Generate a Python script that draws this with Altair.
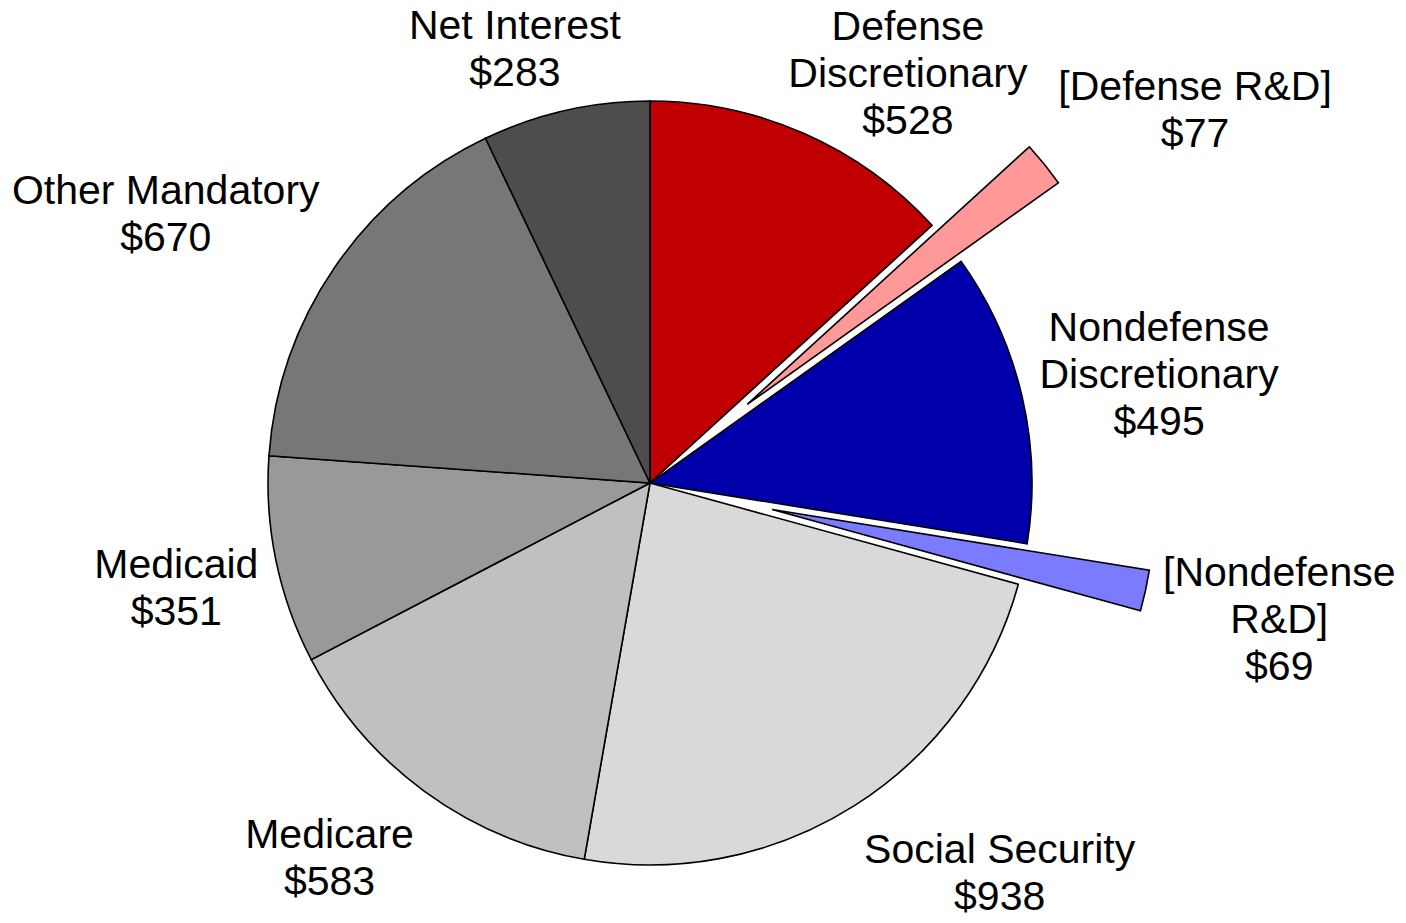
import math
import altair as alt
import pandas as pd

# ---- data ----
categories = ["Defense Discretionary", "[Defense R&D]", "Nondefense Discretionary",
              "[Nondefense R&D]", "Social Security", "Medicare", "Medicaid",
              "Other Mandatory", "Net Interest"]
values = [528, 77, 495, 69, 938, 583, 351, 670, 283]
label_names = [["Defense", "Discretionary"], ["[Defense R&D]"], ["Nondefense", "Discretionary"],
               ["[Nondefense", "R&D]"], ["Social Security"], ["Medicare"], ["Medicaid"],
               ["Other Mandatory"], ["Net Interest"]]
exploded = [0, 1, 0, 1, 0, 0, 0, 0, 0]

# ---- style / layout ----
colors = ["#C00000", "#FF9999", "#0000AA", "#7B7BFF", "#D9D9D9", "#C0C0C0",
          "#999999", "#777777", "#4D4D4D"]
W, H = 1390, 907
CX, CY = 642, 475
R = 382
EXPLODE = 125
LABEL_GAP = 400
LABEL_HALF_H = 48
LABEL_DY = 6
FONT_SIZE = 41
LINE_H = 47

# approximate Arial advance widths (em/1000) for label box estimates
AW = {" ": 278, "$": 556, "[": 278, "]": 278, "&": 667, "A": 667, "C": 722, "D": 722,
      "I": 278, "M": 833, "N": 722, "O": 778, "R": 722, "S": 667, "a": 556, "c": 500,
      "d": 556, "e": 556, "f": 278, "h": 556, "i": 222, "l": 222, "n": 556, "o": 556,
      "r": 333, "s": 500, "t": 278, "u": 556, "y": 500}


def text_w(s):
    return sum(AW.get(ch, 556) for ch in s) / 1000 * FONT_SIZE


total = sum(values)
pie_df = pd.DataFrame({
    "category": categories,
    "value": values,
    "explode": exploded,
    "order": list(range(len(values))),
})

# label placement: box anchored just outside each slice's mid angle
rows = []
cum = 0
for cat, v, names, ex in zip(categories, values, label_names, exploded):
    mid = (cum + v / 2) / total * 2 * math.pi
    cum += v
    lines = names + [f"${v}"]
    n = len(lines)
    w = max(text_w(s) for s in lines)
    ux, uy = math.sin(mid), -math.cos(mid)
    d = LABEL_GAP + ex * EXPLODE
    px, py = CX + d * ux, CY + d * uy
    sx = max(-1, min(1, 2 * ux))
    sy = max(-1, min(1, 2 * uy))
    cy_box = py + sy * LABEL_HALF_H + LABEL_DY
    rows.append({"category": cat, "text": "\n".join(lines),
                 "lx": px + sx * w / 2,
                 # Vega puts the first line at y: shift so the block is centred
                 "ly": cy_box - (n - 1) * LINE_H / 2})
label_df = pd.DataFrame(rows)

arcs = alt.Chart(pie_df).transform_window(
    end="sum(value)", sort=[alt.SortField("order")]
).transform_calculate(
    start="datum.end - datum.value"
).transform_joinaggregate(
    tot="sum(value)"
).transform_calculate(
    mid="(datum.start + datum.value / 2) / datum.tot * 2 * PI"
).transform_calculate(
    cx=f"{CX} + datum.explode * {EXPLODE} * sin(datum.mid)",
    cy=f"{CY} - datum.explode * {EXPLODE} * cos(datum.mid)",
).mark_arc(radius=R, stroke="black", strokeWidth=1.6).encode(
    theta=alt.Theta("start:Q", scale=alt.Scale(domain=[0, total], range=[0, 2 * math.pi])),
    theta2="end:Q",
    x=alt.X("cx:Q", scale=None),
    y=alt.Y("cy:Q", scale=None),
    color=alt.Color("category:N", scale=alt.Scale(domain=categories, range=colors), legend=None),
    order=alt.Order("order:Q"),
)

labels = alt.Chart(label_df).mark_text(
    font="Liberation Sans", fontSize=FONT_SIZE, lineHeight=LINE_H, lineBreak="\n",
    align="center", baseline="middle", color="black",
).encode(
    x=alt.X("lx:Q", scale=None),
    y=alt.Y("ly:Q", scale=None),
    text="text:N",
)

chart = alt.layer(arcs, labels).properties(
    width=W, height=H, padding=0, autosize="none", background="white"
).configure_view(stroke=None)

chart.save("out.html", embed_options={"renderer": "svg", "actions": False})
